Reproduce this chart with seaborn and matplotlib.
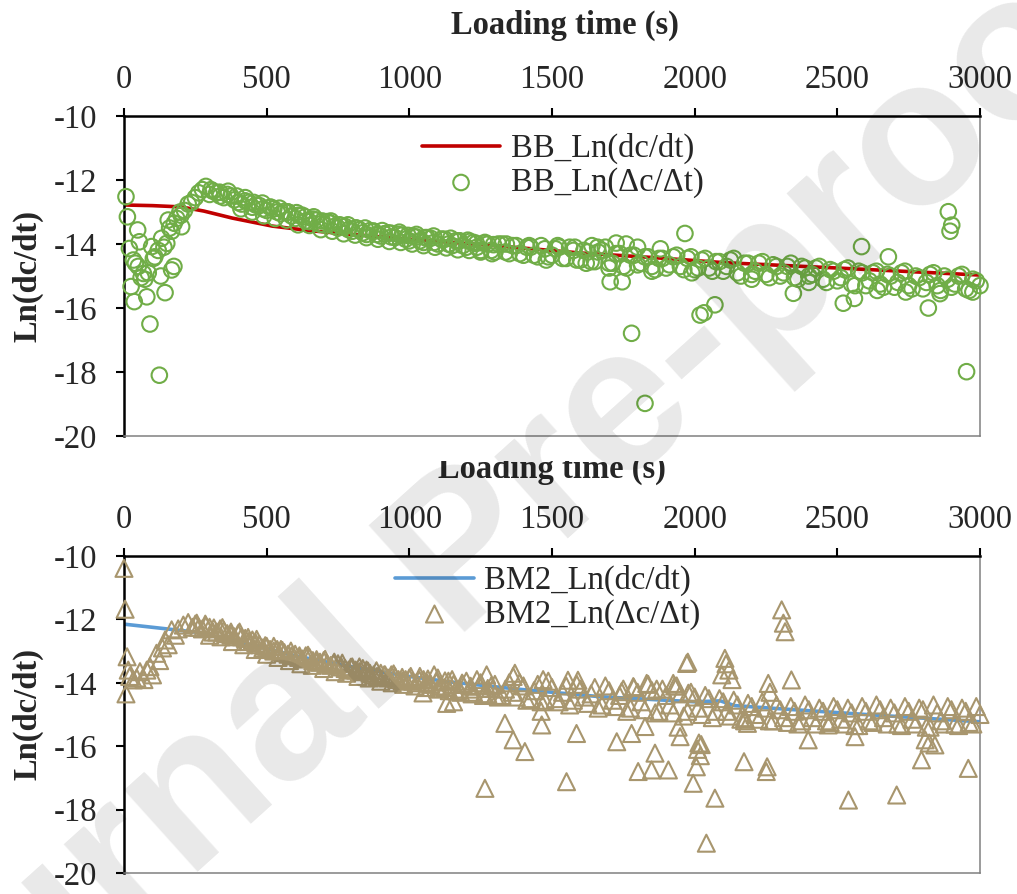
import numpy as np
import matplotlib.pyplot as plt
import seaborn as sns
from matplotlib.transforms import Bbox, TransformedBbox

# ---------------- data ----------------
# BB fitted curve, Ln(dc/dt)
bb_fit_t = [0, 100, 200, 280, 380, 520, 650, 800, 1000, 1300, 1600, 1850, 2100, 2500, 3000]
bb_fit_y = [-12.78, -12.80, -12.84, -12.97, -13.19, -13.44, -13.58, -13.70, -13.85, -14.05,
            -14.28, -14.42, -14.58, -14.75, -14.97]

# BB measured Ln(dc/dt) - start of the test
bb_early_t = [7, 12, 19, 33, 40, 25, 36, 48, 54, 50, 68, 73, 80, 91, 97, 103, 108, 124, 129, 132,
              144, 150, 155, 167, 175, 167, 185, 202, 196, 176, 160, 140, 120, 60, 85]
bb_early_y = [-12.52, -13.15, -14.14, -14.5, -14.6, -15.33, -15.8, -13.56, -13.93, -14.7, -14.92,
              -15.1, -15.65, -16.5, -14.08, -14.45, -14.4, -18.1, -15.0, -13.82, -15.52, -13.98,
              -13.25, -14.81, -14.7, -13.6, -13.2, -13.46, -13.0, -13.35, -13.5, -14.1, -14.2,
              -15.05, -14.9]

# BB measured - main band
bb_band_t = [200, 225, 250, 275, 300, 325, 350, 375, 400, 425, 450, 475, 500, 525, 550, 575,
             600, 625, 650, 675, 700, 725, 750, 775, 800, 825, 850, 875, 900, 925, 950, 975,
             1000, 1025, 1050, 1075, 1100, 1125, 1150, 1175, 1200, 1225, 1250, 1275, 1300, 1325,
             1350, 1375, 1400, 1425, 1450, 1475, 1500, 1525, 1550, 1575, 1600, 1625, 1650, 1675,
             1700, 1725, 1750, 1775, 1800, 1825, 1850, 1875, 1900, 1925, 1950, 1975, 2000, 2025,
             2050, 2075, 2100, 2125, 2150, 2175, 2200, 2225, 2250, 2275, 2300, 2325, 2350, 2375,
             2400, 2425, 2450, 2475, 2500, 2525, 2550, 2575, 2600, 2625, 2650, 2675, 2700, 2725,
             2750, 2775, 2800, 2825, 2850, 2875, 2900, 2925, 2950, 2975, 3000]
bb_band_y = [-13.1, -12.75, -12.55, -12.3, -12.45, -12.4, -12.55, -12.5, -12.7, -12.65, -12.85,
             -12.8, -12.95, -12.9, -13.05, -13.0, -13.2, -13.1, -13.3, -13.25, -13.4, -13.35,
             -13.5, -13.45, -13.6, -13.55, -13.7, -13.6, -13.75, -13.65, -13.8, -13.72, -13.9,
             -13.78, -13.95, -13.82, -14.0, -13.85, -14.05, -13.9, -14.1, -13.95, -14.2, -14.0,
             -14.25, -14.0, -14.3, -14.05, -14.35, -14.1, -14.4, -14.15, -14.35, -14.1, -14.45,
             -14.2, -14.5, -14.25, -14.55, -14.2, -14.6, -14.3, -14.7, -14.35, -14.65, -14.4,
             -14.7, -14.45, -14.75, -14.4, -14.7, -14.45, -14.8, -14.5, -14.75, -14.55, -14.85,
             -14.5, -14.9, -14.6, -14.95, -14.6, -14.95, -14.65, -15.0, -14.7, -15.05, -14.7,
             -15.0, -14.75, -15.1, -14.8, -15.15, -14.8, -15.25, -14.85, -15.3, -14.9, -15.25,
             -14.95, -15.35, -14.9, -15.3, -15.0, -15.4, -14.95, -15.3, -15.0, -15.35, -15.0,
             -15.4, -15.1, -15.3]
bb_fill_t = [212, 237, 262, 287, 312, 337, 362, 387, 412, 437, 462, 487, 512, 537, 562, 587,
             612, 637, 662, 687, 712, 737, 762, 787, 812, 837, 862, 887, 912, 937, 962, 987,
             1012, 1037, 1062, 1087, 1112, 1137, 1162, 1187, 1212, 1237, 1262, 1287, 1312, 1337,
             1362, 1387, 1412, 1437, 1462, 1487, 1512, 1537, 1562, 1587, 1612, 1637, 1662, 1687,
             1712, 1737, 1762, 1787, 1812, 1837, 1862, 1887, 1912, 1937, 1962, 1987, 2012, 2037,
             2062, 2087, 2112, 2137, 2162, 2187, 2212, 2237, 2262, 2287, 2312, 2337, 2362, 2387,
             2412, 2437, 2462, 2487, 2512, 2537, 2562, 2587, 2612, 2637, 2662, 2687, 2712, 2737,
             2762, 2787, 2812, 2837, 2862, 2887, 2912, 2937, 2962, 2987]
bb_fill_y = [-12.95, -12.7, -12.4, -12.2, -12.35, -12.5, -12.45, -12.62, -12.75, -12.7, -12.78,
             -12.9, -12.85, -13.0, -12.98, -13.12, -13.1, -13.28, -13.22, -13.38, -13.3, -13.45,
             -13.42, -13.55, -13.5, -13.65, -13.58, -13.7, -13.68, -13.78, -13.7, -13.85, -13.75,
             -13.9, -13.8, -13.95, -13.85, -14.0, -13.9, -14.05, -13.92, -14.1, -13.98, -14.2,
             -14.0, -14.25, -14.05, -14.3, -14.1, -14.35, -14.05, -14.4, -14.15, -14.45, -14.1,
             -14.5, -14.2, -14.55, -14.25, -14.1, -14.6, -14.3, -14.75, -14.35, -14.6, -14.4,
             -14.8, -14.45, -14.65, -14.35, -14.8, -14.4, -14.75, -14.45, -14.85, -14.55, -14.7,
             -14.45, -15.0, -14.6, -14.85, -14.55, -15.05, -14.7, -14.9, -14.6, -15.1, -14.75,
             -14.95, -14.7, -15.2, -14.85, -15.05, -14.75, -15.3, -14.9, -15.15, -14.85, -15.35,
             -15.0, -15.2, -14.85, -15.4, -15.05, -15.2, -14.9, -15.45, -15.1, -15.25, -14.95,
             -15.45, -15.15]
bb_low_t = [410, 450, 490, 530, 570, 610, 650, 690, 730, 770, 810, 850, 890, 930, 970, 1010,
            1050, 1090, 1130, 1170, 1210, 1250, 1290]
bb_low_y = [-12.9, -13.0, -13.12, -13.2, -13.25, -13.4, -13.42, -13.55, -13.6, -13.68, -13.72,
            -13.8, -13.85, -13.92, -13.95, -14.0, -14.05, -14.1, -14.12, -14.18, -14.2, -14.25,
            -14.3]
bb_up_t = [305, 335, 365, 395, 425, 455, 485, 515, 545, 575, 605, 635, 665, 695, 725, 755, 785,
           815, 845, 875, 905, 935, 965, 995, 1025, 1055, 1085, 1115, 1145, 1175, 1205, 1235,
           1265, 1295]
bb_up_y = [-12.3, -12.38, -12.35, -12.5, -12.55, -12.7, -12.72, -12.85, -12.88, -13.0, -13.02,
           -13.15, -13.15, -13.28, -13.28, -13.4, -13.4, -13.5, -13.5, -13.6, -13.58, -13.66,
           -13.63, -13.73, -13.7, -13.8, -13.75, -13.85, -13.82, -13.9, -13.88, -13.98, -13.95,
           -14.02]
bb_out_t = [1966, 2585, 2889, 2901, 2895, 2953, 1779, 1826, 2019, 2033, 2071, 2346, 2521, 2560,
            2819, 1704, 1746, 2679, 1725, 1640, 1340, 1420, 1520, 1580, 1660, 1760, 1800, 1880,
            1480, 1620, 1700, 1850, 1990, 2200, 2400, 2640, 2740, 2860, 2975]
bb_out_y = [-13.67, -14.08, -12.99, -13.41, -13.6, -17.99, -16.79, -18.98, -16.22, -16.15, -15.9,
            -15.54, -15.85, -15.7, -16.0, -15.18, -15.18, -14.4, -13.97, -14.05, -14.0, -14.05,
            -14.05, -14.1, -14.1, -14.0, -14.1, -14.15, -14.5, -14.6, -14.75, -14.85, -14.9,
            -15.1, -15.2, -15.45, -15.5, -15.55, -15.5]

# BM2 fitted curve
bm_fit_t = [0, 150, 250, 400, 600, 800, 1000, 1150, 1380, 1670, 2000, 2090, 2140, 2300, 2600, 3000]
bm_fit_y = [-12.15, -12.3, -12.4, -12.7, -13.15, -13.5, -13.8, -13.98, -14.2, -14.44, -14.6,
            -14.57, -14.72, -14.82, -15.0, -15.23]

# BM2 measured
bm_early_t = [0, 4, 11, 7, 15, 20, 33, 45, 56, 70, 80, 91, 100, 114, 125, 135, 144, 155, 167,
              180, 190, 208, 225, 240]
bm_early_y = [-10.39, -11.68, -13.18, -14.35, -13.6, -13.8, -13.91, -13.85, -13.65, -13.9, -13.6,
              -13.49, -13.75, -13.07, -13.3, -12.9, -12.65, -12.8, -12.33, -12.5, -12.3, -12.18,
              -12.1, -12.25]
bm_band_t = [250, 275, 300, 325, 350, 375, 400, 425, 450, 475, 500, 525, 550, 575, 600, 625, 650,
             675, 700, 725, 750, 775, 800, 825, 850, 875, 900, 925, 950, 975, 1000, 1025, 1050,
             1075, 1100, 1125, 1150, 1175, 1200, 1225, 1250, 1275, 1300, 1325, 1350, 1375, 1400,
             1425, 1450, 1475, 1500, 1525, 1550, 1575, 1600, 1625, 1650, 1675, 1700, 1725, 1750,
             1775, 1800, 1825, 1850, 1875, 1900, 1925, 1950, 1975, 2000, 2025, 2050, 2075, 2100,
             2125, 2150, 2175, 2200, 2225, 2250, 2275, 2300, 2325, 2350, 2375, 2400, 2425, 2450,
             2475, 2500, 2525, 2550, 2575, 2600, 2625, 2650, 2675, 2700, 2725, 2750, 2775, 2800,
             2825, 2850, 2875, 2900, 2925, 2950, 2975, 3000]
bm_band_y = [-12.15, -12.3, -12.25, -12.4, -12.35, -12.5, -12.45, -12.6, -12.65, -12.8, -12.85,
             -13.0, -12.95, -13.1, -13.1, -13.25, -13.2, -13.35, -13.3, -13.45, -13.4, -13.55,
             -13.5, -13.65, -13.6, -13.75, -13.7, -13.85, -13.8, -13.95, -13.85, -14.0, -13.9,
             -14.05, -13.85, -14.15, -13.9, -14.2, -13.95, -14.3, -14.0, -14.35, -14.05, -14.4,
             -14.0, -14.45, -14.1, -14.5, -14.05, -14.55, -14.15, -14.6, -14.1, -14.55, -14.2,
             -14.65, -14.15, -14.7, -14.25, -14.75, -14.2, -14.8, -14.3, -14.85, -14.25, -14.9,
             -14.4, -14.95, -14.35, -14.9, -14.45, -15.0, -14.5, -14.9, -14.6, -15.05, -14.7,
             -15.1, -14.75, -15.15, -14.8, -15.2, -14.85, -15.25, -14.9, -15.2, -14.85, -15.3,
             -14.9, -15.25, -14.85, -15.3, -14.95, -15.35, -14.9, -15.25, -14.85, -15.3, -14.95,
             -15.35, -14.9, -15.3, -14.85, -15.4, -14.95, -15.3, -14.85, -15.35, -14.9, -15.3,
             -15.0]
bm_fill_t = [262, 287, 312, 337, 362, 387, 412, 437, 462, 487, 512, 537, 562, 587, 612, 637, 662,
             687, 712, 737, 762, 787, 812, 837, 862, 887, 912, 937, 962, 987, 1012, 1037, 1062,
             1087, 1112, 1137, 1162, 1187, 1212, 1237, 1262, 1287, 1312, 1337, 1362, 1387, 1412,
             1437, 1462, 1487, 1512, 1537, 1562, 1587, 1612, 1637, 1662, 1687, 1712, 1737, 1762,
             1787, 1812, 1837, 1862, 1887, 1912, 1937, 1962, 1987, 2012, 2037, 2062, 2087, 2112,
             2137, 2162, 2187, 2212, 2237, 2262, 2287, 2312, 2337, 2362, 2387, 2412, 2437, 2462,
             2487, 2512, 2537, 2562, 2587, 2612, 2637, 2662, 2687, 2712, 2737, 2762, 2787, 2812,
             2837, 2862, 2887, 2912, 2937, 2962, 2987]
bm_fill_y = [-12.25, -12.2, -12.4, -12.3, -12.45, -12.55, -12.55, -12.7, -12.75, -12.9, -12.95,
             -12.95, -13.05, -13.15, -13.2, -13.15, -13.3, -13.35, -13.4, -13.35, -13.5, -13.6,
             -13.6, -13.55, -13.7, -13.8, -13.75, -13.75, -13.9, -13.9, -13.95, -13.8, -14.0,
             -13.75, -14.1, -13.95, -14.25, -14.05, -14.2, -13.9, -14.35, -14.1, -14.45, -14.2,
             -14.3, -14.0, -14.55, -14.25, -14.6, -13.95, -14.5, -14.3, -14.7, -14.05, -14.45,
             -14.35, -14.8, -14.1, -14.55, -14.4, -14.9, -14.15, -14.6, -14.05, -14.95, -14.2,
             -14.7, -14.1, -15.05, -14.3, -14.8, -14.4, -15.1, -14.5, -14.9, -14.55, -15.15,
             -14.65, -15.0, -14.6, -15.2, -14.7, -15.1, -14.75, -15.3, -14.7, -15.1, -14.8, -15.2,
             -14.75, -15.15, -14.8, -15.35, -14.75, -15.2, -14.7, -15.1, -14.8, -15.3, -14.75,
             -15.15, -14.8, -15.4, -14.7, -15.2, -14.75, -15.3, -14.8, -15.25, -14.75]
bm_low_t = [300, 340, 380, 420, 460, 500, 540, 580, 620, 660, 700, 740, 780, 820, 860, 900, 940,
            980, 1020, 1060, 1100, 1140, 1180, 1220, 1260, 1300]
bm_low_y = [-12.5, -12.55, -12.7, -12.8, -12.95, -13.1, -13.2, -13.3, -13.4, -13.45, -13.55,
            -13.65, -13.7, -13.8, -13.85, -13.95, -14.0, -14.05, -14.1, -14.15, -14.2, -14.25,
            -14.3, -14.35, -14.4, -14.4]
bm_up_t = [255, 285, 315, 345, 375, 405, 435, 465, 495, 525, 555, 585, 615, 645, 675, 705, 735,
           765, 795, 825, 855, 885, 915, 945, 975, 1005, 1035, 1065, 1095, 1125, 1155, 1185,
           1215, 1245, 1275]
bm_up_y = [-12.12, -12.15, -12.27, -12.26, -12.4, -12.4, -12.57, -12.63, -12.83, -12.85, -12.98,
           -13.0, -13.15, -13.13, -13.27, -13.26, -13.39, -13.38, -13.51, -13.5, -13.63, -13.62,
           -13.75, -13.72, -13.83, -13.8, -13.91, -13.88, -13.98, -13.94, -14.05, -14.01, -14.11,
           -14.08, -14.18]
bm_out_t = [1265, 1335, 1364, 1405, 1464, 1462, 1048, 1131, 1155, 1271, 1370, 2305, 2311, 2317,
            1972, 1976, 2106, 2110, 2120, 2095, 2131, 2258, 2339, 2264, 2041, 2071, 1995, 2006,
            2010, 2015, 2020, 2023, 1551, 1586, 1727, 1779, 1802, 1849, 1908, 1861, 1826, 1949,
            1942, 1978, 1925, 2173, 2251, 2254, 2398, 2539, 2708, 2795, 2959, 2842, 2822, 2808,
            2562, 2468, 2185, 2175, 1364, 1469, 1556, 1591, 1744, 1785, 1832, 1867, 1930]
bm_out_y = [-17.33, -15.28, -15.8, -16.17, -15.33, -14.9, -14.32, -14.65, -14.6, -13.75, -13.7,
            -11.7, -12.12, -12.39, -13.39, -13.35, -13.23, -13.4, -13.6, -13.75, -13.9, -14.02,
            -13.91, -14.3, -19.06, -17.64, -17.17, -16.65, -16.1, -15.9, -16.3, -15.95, -17.12,
            -15.6, -15.86, -15.6, -16.8, -16.75, -16.75, -16.22, -15.38, -15.7, -15.4, -14.33,
            -14.02, -16.49, -16.8, -16.65, -15.8, -17.7, -17.54, -16.43, -16.7, -15.96, -15.9,
            -15.8, -15.7, -15.33, -15.28, -15.2, -13.8, -13.9, -13.92, -13.92, -14.28, -14.12,
            -14.02, -14.2, -14.1]

x_ticks = [0, 500, 1000, 1500, 2000, 2500, 3000]
y_ticks = [-10, -12, -14, -16, -18, -20]

# ---------------- style ----------------
sns.set_style("white")
plt.rcParams['font.family'] = ['Liberation Serif', 'DejaVu Serif']
plt.rcParams['axes.unicode_minus'] = False
FS = 23.5


def setup_axes(ax):
    ax.set_xlim(0, 3000)
    ax.set_ylim(-20, -10)
    ax.set_xticks(x_ticks)
    ax.set_yticks(y_ticks)
    ax.xaxis.tick_top()
    ax.xaxis.set_label_position('top')
    ax.tick_params(axis='both', direction='out', length=6, width=1.5,
                   labelsize=FS, color='black')
    ax.tick_params(axis='x', bottom=False, top=True, pad=9)
    ax.tick_params(axis='y', left=True, right=False, pad=13)
    for side in ['top', 'left']:
        ax.spines[side].set_color('black')
        ax.spines[side].set_linewidth(1.8)
    for side in ['right', 'bottom']:
        ax.spines[side].set_color('#808080')
        ax.spines[side].set_linewidth(1.1)
    ax.set_ylabel('Ln(dc/dt)', fontsize=FS, fontweight='bold')
    ax.yaxis.set_label_coords(-0.094, 0.5)


def plot_panel(ax, fit_t, fit_y, meas_t, meas_y, line_color, mark_color, marker, size,
               fit_label, meas_label):
    sns.lineplot(x=fit_t, y=fit_y, color=line_color, linewidth=2.6, label=fit_label,
                 ax=ax, zorder=2)
    sns.scatterplot(x=meas_t, y=meas_y, marker=marker, s=size, facecolors='none',
                    edgecolor=mark_color, linewidth=1.5, label=meas_label, ax=ax,
                    zorder=3, clip_on=False)


fig = plt.figure(figsize=(10.17, 8.94), dpi=100)
ax1 = fig.add_axes([0.1219, 0.5123, 0.8417, 0.3579])
ax2 = fig.add_axes([0.1219, 0.0235, 0.8417, 0.3546])

bb_t = bb_early_t + bb_band_t + bb_fill_t + bb_low_t + bb_up_t + bb_out_t
bb_y = bb_early_y + bb_band_y + bb_fill_y + bb_low_y + bb_up_y + bb_out_y
bm_t = bm_early_t + bm_band_t + bm_fill_t + bm_low_t + bm_up_t + bm_out_t
bm_y = bm_early_y + bm_band_y + bm_fill_y + bm_low_y + bm_up_y + bm_out_y

plot_panel(ax1, bb_fit_t, bb_fit_y, bb_t, bb_y, '#C00000', '#70AD47', 'o', 125,
           'BB_Ln(dc/dt)', 'BB_Ln(Δc/Δt)')
plot_panel(ax2, bm_fit_t, bm_fit_y, bm_t, bm_y, '#5B9BD5', '#A8966E', '^', 150,
           'BM2_Ln(dc/dt)', 'BM2_Ln(Δc/Δt)')

for ax in (ax1, ax2):
    setup_axes(ax)
    ax.set_xlabel('Loading time (s)', fontsize=FS, fontweight='bold')

ax1.xaxis.set_label_coords(0.515, 1.258)
ax2.xaxis.set_label_coords(0.5, 1.246)

# the lower panel title is cut off at the top in the original
clip = TransformedBbox(Bbox([[0, 0], [1, 1 - 461 / 894]]), fig.transFigure)
ax2.xaxis.label.set_clip_box(clip)
ax2.xaxis.label.set_clip_on(True)

ax1.legend(loc='upper left', bbox_to_anchor=(0.348, 0.947), frameon=False, fontsize=FS,
           handlelength=2.4, handletextpad=0.33, borderpad=0, borderaxespad=0,
           labelspacing=0.1)
ax2.legend(loc='upper left', bbox_to_anchor=(0.317, 0.971), frameon=False, fontsize=FS,
           handlelength=2.4, handletextpad=0.33, borderpad=0, borderaxespad=0,
           labelspacing=0.08)

# watermark
fig.text(0.536, 0.3747, 'Journal Pre-proofs', rotation=42, rotation_mode='anchor',
         fontsize=150, fontweight='bold', color='black', alpha=0.09, ha='center',
         va='baseline', family='Liberation Sans', zorder=10)

fig.savefig('out.png', dpi=100)
